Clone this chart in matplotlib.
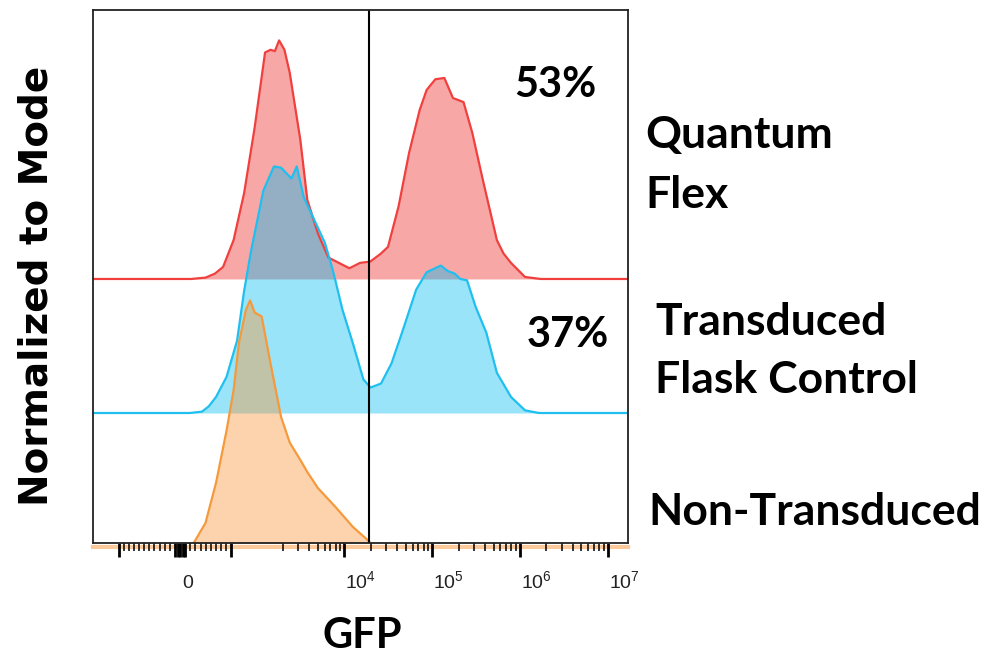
import matplotlib
matplotlib.use('Agg')
import matplotlib.pyplot as plt
from matplotlib.transforms import blended_transform_factory

# GFP intensity (x) and histogram height normalized to mode (y)
red_x = [-1700, 220, 350, 496, 680, 839, 1044, 1249, 1455, 1658, 1764, 1850, 1932, 2100, 2410,
         3180, 3820, 5040, 6630, 8730, 11500, 15200, 19900, 26300, 31600, 41600, 54800, 72300,
         86800, 109000, 138000, 173000, 228000, 287000, 378000, 460000, 546000, 650000, 790000,
         1140000, 1720000, 1.7e7]
red_y = [0, 0, 0.005, 0.01, 0.04, 0.09, 0.29, 0.64, 1.13, 1.69, 1.71, 1.70, 1.78, 1.71, 1.54,
         1.04, 0.59, 0.34, 0.16, 0.12, 0.08, 0.12, 0.13, 0.19, 0.24, 0.54, 0.94, 1.26,
         1.41, 1.49, 1.50, 1.35, 1.32, 1.09, 0.74, 0.50, 0.29, 0.19, 0.12,
         0.015, 0, 0]

blue_x = [-1700, 187, 427, 560, 702, 907, 1112, 1249, 1385, 1455, 1625, 1832, 1971, 2520, 2900,
          3480, 4590, 6050, 7270, 7960, 9590, 12600, 16600, 20000, 26300, 34600, 45600,
          66000, 86800, 126000, 150000, 181000, 210000, 250000, 314000, 414000, 546000,
          790000, 1140000, 1640000, 1.7e7]
blue_y = [0, 0, 0.01, 0.05, 0.12, 0.27, 0.54, 0.91, 1.21, 1.34, 1.66, 1.84, 1.83, 1.75, 1.84,
          1.61, 1.44, 1.27, 1.09, 0.99, 0.77, 0.52, 0.25, 0.19, 0.22, 0.37, 0.60,
          0.92, 1.05, 1.10, 1.06, 1.04, 1.00, 0.99, 0.79, 0.60, 0.30,
          0.12, 0.02, 0, 0]

orange_x = [-1700, 220, 496, 702, 907, 1044, 1147, 1284, 1366, 1455, 1592, 1764, 1971,
            2410, 3180, 3820, 5040, 7960, 12600, 18700, 21900, 1.7e7]
orange_y = [0, 0, 0.18, 0.48, 0.87, 1.17, 1.52, 1.77, 1.84, 1.75, 1.72, 1.37, 0.97,
            0.78, 0.65, 0.56, 0.44, 0.30, 0.15, 0.05, 0, 0]

gate = 1.9e4
pct_labels = ['53%', '37%']
sample_names = [['Quantum', 'Flex'], ['Transduced', 'Flask Control'], ['Non-Transduced']]

tick_values = [0, 1e4, 1e5, 1e6, 1e7]
tick_texts = ['0', r'$\mathregular{10^4}$', r'$\mathregular{10^5}$',
              r'$\mathregular{10^6}$', r'$\mathregular{10^7}$']
thick_ticks = [-1200, -100, -50, 0, 50, 100, 1000, 1e4, 1e5, 1e6, 1e7]
thin_ticks = ([-v for v in range(200, 1200, 100)] + list(range(200, 1000, 100))
              + [k * 10 ** e for e in (3, 4, 5, 6) for k in range(2, 10)])

W, H = 991, 655


def fx(px):
    return px / W


def fy(py):
    return 1 - py / H


fig = plt.figure(figsize=(W / 100, H / 100), dpi=100)
ax = fig.add_axes([fx(93), fy(543), fx(628) - fx(93), fy(10) - fy(543)])
ax.set_xscale('symlog', linthresh=2000, linscale=1.0485)
ax.set_xlim(-1700, 1.69e7)
ax.set_ylim(0.03, 4.007)

# stacked histograms, back to front
series = [
    (red_x, red_y, 2, '#f0403e', '#f03c3c', 0.45),
    (blue_x, blue_y, 1, '#1fbff0', '#00bcf0', 0.40),
    (orange_x, orange_y, 0, '#f59a3c', '#f8963a', 0.42),
]
for xs, ys, off, lc, fc, a in series:
    top = [off + v for v in ys]
    ax.fill_between(xs, off, top, color=fc, alpha=a, linewidth=0)
    ax.plot(xs, top, color=lc, linewidth=1.6)

# light orange baseline under the axis
ax.plot([-1700, 1.69e7], [0, 0], color='#fcc99a', linewidth=3, clip_on=False, zorder=0)

ax.axvline(gate, color='black', linewidth=1.5)

ax.set_yticks([])
ax.set_xticks(thick_ticks)
ax.set_xticks(thin_ticks, minor=True)
ax.tick_params(axis='x', which='major', length=10, width=2.0, color='black', labelbottom=False)
ax.tick_params(axis='x', which='minor', length=6, width=1.1, color='black', labelbottom=False)
for s in ax.spines.values():
    s.set_linewidth(1.3)
    s.set_color('#222222')

trans = blended_transform_factory(ax.transData, ax.transAxes)
for val, txt in zip(tick_values, tick_texts):
    if val == 0:
        ax.annotate(txt, xy=(val, -0.0844), xycoords=trans, xytext=(8, 0),
                    textcoords='offset pixels', ha='center', va='baseline',
                    fontsize=14, family='Liberation Sans', color='#222222')
    else:
        ax.annotate(txt, xy=(val, -0.0844), xycoords=trans, xytext=(1, 0),
                    textcoords='offset pixels', ha='left', va='baseline',
                    fontsize=14, family='Liberation Sans', color='#222222')

bold = dict(family='Lato', fontweight='bold', color='black')

fig.text(fx(37), fy(286), 'Normalized to Mode', rotation=90, ha='center', va='center',
         fontsize=28, fontweight='bold', family='DejaVu Sans')
fig.text(fx(362), fy(648), 'GFP', ha='center', va='baseline', fontsize=30, **bold)

fig.text(fx(555), fy(97), pct_labels[0], ha='center', va='baseline', fontsize=30, **bold)
fig.text(fx(568), fy(347), pct_labels[1], ha='center', va='baseline', fontsize=30, **bold)

name_pos = [(645, [148, 208]), (655, [335, 393]), (648, [525])]
for lines, (px, bases) in zip(sample_names, name_pos):
    for line, b in zip(lines, bases):
        fig.text(fx(px), fy(b), line, ha='left', va='baseline', fontsize=32, **bold)

fig.savefig('out.png', dpi=100)
